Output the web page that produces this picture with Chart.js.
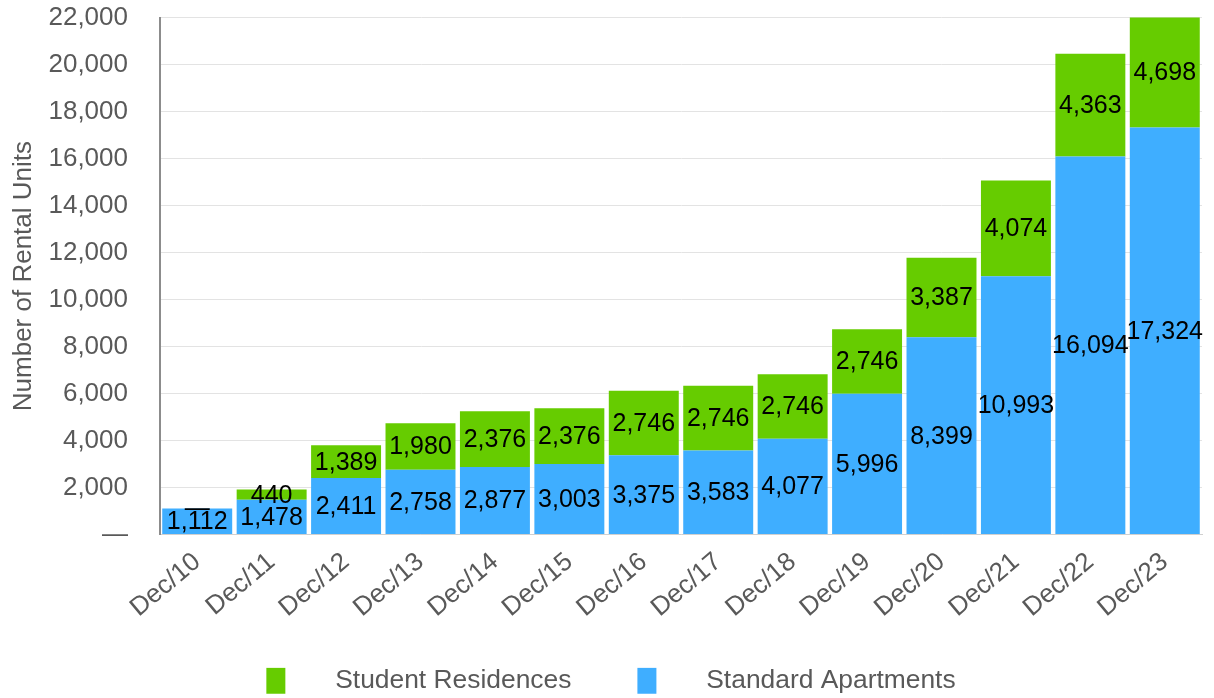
<!DOCTYPE html>
<html>
<head>
<meta charset="utf-8">
<script src="https://cdn.jsdelivr.net/npm/chart.js@4"></script>
<style>
  html, body { margin:0; padding:0; background:#fff; }
  #wrap { width:1214px; height:698px; }
</style>
</head>
<body>
<div id="wrap"><canvas id="rentalChart" width="1214" height="698"></canvas></div>
<script>
/* DATA */

const years = [
  "Dec/10","Dec/11","Dec/12","Dec/13","Dec/14","Dec/15","Dec/16",
  "Dec/17","Dec/18","Dec/19","Dec/20","Dec/21","Dec/22","Dec/23"
];

const standardApartments = [
  1112, 1478, 2411, 2758, 2877, 3003, 3375,
  3583, 4077, 5996, 8399, 10993, 16094, 17324
];

const studentResidences = [
  0, 440, 1389, 1980, 2376, 2376, 2746,
  2746, 2746, 2746, 3387, 4074, 4363, 4698
];

const yTicks = [0,2000,4000,6000,8000,10000,12000,14000,16000,18000,20000,22000];

const FONT = "'Liberation Sans', Arial, sans-serif";

/* LABEL PLUGIN */

const segmentLabels = {
  id:"segmentLabels",
  afterDatasetsDraw(chart){
    const c = chart.ctx;
    c.save();
    c.font = "25px " + FONT;
    c.fillStyle = "#000";
    c.textAlign = "center";
    c.textBaseline = "middle";
    chart.data.datasets.forEach((ds, i)=>{
      const meta = chart.getDatasetMeta(i);
      meta.data.forEach((bar, j)=>{
        const v = ds.data[j];
        const txt = v === 0 ? "—" : v.toLocaleString("en-US");
        c.fillText(txt, bar.x, (bar.y + bar.base) / 2 + 1);
      });
    });
    c.restore();
  }
};

/* legend sits a little right of centre in the original */
const legendNudge = {
  id:"legendNudge",
  afterLayout(chart){
    chart.legend.left += 8;
    chart.legend.right += 8;
  }
};

const ctx = document.getElementById("rentalChart").getContext("2d");

new Chart(ctx, {
  type:"bar",
  data:{
    labels:years,
    datasets:[
      {
        label:"Standard Apartments",
        data:standardApartments,
        backgroundColor:"#3FAEFF",
        barPercentage:0.94,
        categoryPercentage:1
      },
      {
        label:"Student Residences",
        data:studentResidences,
        backgroundColor:"#66CC00",
        barPercentage:0.94,
        categoryPercentage:1
      }
    ]
  },
  options:{
    responsive:false,
    animation:false,
    layout:{ padding:{ top:0, right:12, left:4, bottom:-6 } },
    plugins:{
      legend:{
        position:"bottom",
        reverse:true,
        labels:{
          color:"#595959",
          font:{ family:FONT, size:26.4, lineHeight:1 },
          boxWidth:19,
          boxHeight:26,
          padding:0,
          generateLabels(chart){
            const items = Chart.defaults.plugins.legend.labels.generateLabels(chart);
            items.forEach(it => {
              it.text = "     " + it.text + (it.datasetIndex === 1 ? "         " : "");
              it.lineWidth = 0;
            });
            return items;
          }
        }
      },
      tooltip:{ enabled:false }
    },
    scales:{
      x:{
        stacked:true,
        afterFit(scale){ scale.height = 133; },
        grid:{ display:false },
        border:{ color:"#d0d0d0" },
        ticks:{
          color:"#595959",
          font:{ family:FONT, size:26 },
          minRotation:40,
          maxRotation:40,
          padding:4
        }
      },
      y:{
        stacked:true,
        min:0,
        max:22000,
        afterBuildTicks(axis){
          axis.ticks = yTicks.map(v => ({ value:v }));
        },
        afterFit(scale){ scale.width = 156; },
        grid:{ color:"#e3e3e3", tickColor:"rgba(0,0,0,0)", tickLength:30 },
        border:{ color:"#8c8c8c", width:2 },
        title:{
          display:true,
          text:"Number of Rental Units",
          color:"#595959",
          font:{ family:FONT, size:26 },
          padding:{ top:4, bottom:4 }
        },
        ticks:{
          color:"#595959",
          font:{ family:FONT, size:26 },
          padding:2,
          callback:(v)=> v === 0 ? "—" : v.toLocaleString("en-US")
        }
      }
    }
  },
  plugins:[segmentLabels, legendNudge]
});
</script>
</body>
</html>
